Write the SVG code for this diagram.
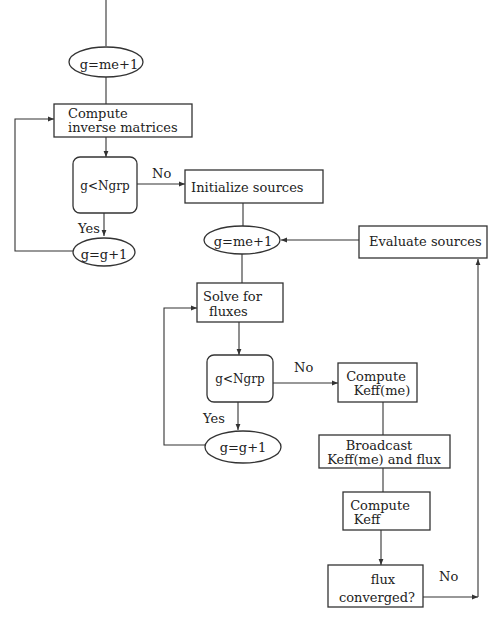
<svg xmlns="http://www.w3.org/2000/svg" width="491" height="618" viewBox="0 0 491 618">
  <style>
    .box { fill: #fff; stroke: #333; stroke-width: 1.3; }
    .ln { fill: none; stroke: #333; stroke-width: 1.1; }
    .arr { fill: none; stroke: #333; stroke-width: 1.1; marker-end: url(#ah); }
    text { font-family: "DejaVu Serif", "Liberation Serif", serif; font-size: 13px; fill: #222; }
    .c { text-anchor: middle; }
    .s { font-size: 12px; }
  </style>
  <defs>
    <marker id="ah" viewBox="0 0 10 10" refX="10" refY="5" markerWidth="6" markerHeight="6" orient="auto" markerUnits="userSpaceOnUse">
      <path d="M0,1 L10,5 L0,9 Z" fill="#333"/>
    </marker>
  </defs>
  <rect width="491" height="618" fill="#fff"/>

  <!-- connectors -->
  <g id="connectors">
    <line class="ln" x1="106" y1="0" x2="106" y2="46"/>
    <line class="ln" x1="106" y1="77" x2="106" y2="104"/>
    <line class="arr" x1="106" y1="137" x2="106" y2="157"/>
    <line class="arr" x1="137" y1="184" x2="185" y2="184"/>
    <line class="arr" x1="104" y1="213" x2="104" y2="236"/>
    <polyline class="arr" points="73,251 15,251 15,119 54,119"/>
    <line class="ln" x1="243" y1="203" x2="243" y2="226"/>
    <line class="arr" x1="359" y1="240" x2="281" y2="240"/>
    <line class="ln" x1="242" y1="254" x2="242" y2="283"/>
    <line class="arr" x1="239" y1="322" x2="239" y2="355"/>
    <polyline class="arr" points="206,445 164,445 164,308 197,308"/>
    <line class="arr" x1="238" y1="402" x2="238" y2="430"/>
    <line class="arr" x1="273" y1="383" x2="338" y2="383"/>
    <line class="ln" x1="383" y1="402" x2="383" y2="435"/>
    <line class="ln" x1="383" y1="468" x2="383" y2="492"/>
    <line class="arr" x1="381" y1="530" x2="381" y2="565"/>
    <line class="arr" x1="423" y1="597" x2="478" y2="597"/>
    <line class="arr" x1="478" y1="597" x2="478" y2="259"/>
  </g>

  <!-- nodes -->
  <g id="start">
    <ellipse class="box" cx="106" cy="62" rx="37" ry="15"/>
    <text class="c" x="109" y="69">g=me+1</text>
  </g>
  <g id="inverse">
    <rect class="box" x="54" y="104" width="138" height="33"/>
    <text x="68" y="118">Compute</text>
    <text x="68" y="132">inverse matrices</text>
  </g>
  <g id="test1">
    <rect class="box" x="73" y="157" width="64" height="56" rx="7"/>
    <text class="c s" x="105" y="190">g&lt;Ngrp</text>
  </g>
  <g id="inc1">
    <ellipse class="box" cx="104" cy="252" rx="31" ry="14"/>
    <text class="c" x="104" y="259">g=g+1</text>
  </g>
  <g id="init">
    <rect class="box" x="185" y="170" width="138" height="33"/>
    <text x="191" y="192">Initialize sources</text>
  </g>
  <g id="start2">
    <ellipse class="box" cx="242" cy="240" rx="38" ry="14"/>
    <text class="c" x="243" y="246">g=me+1</text>
  </g>
  <g id="evaluate">
    <rect class="box" x="359" y="226" width="128" height="32"/>
    <text x="369" y="246">Evaluate sources</text>
  </g>
  <g id="solve">
    <rect class="box" x="197" y="283" width="86" height="39"/>
    <text x="203" y="301">Solve for</text>
    <text x="209" y="316">fluxes</text>
  </g>
  <g id="test2">
    <rect class="box" x="207" y="355" width="66" height="47" rx="7"/>
    <text class="c s" x="240" y="383">g&lt;Ngrp</text>
  </g>
  <g id="inc2">
    <ellipse class="box" cx="243" cy="447" rx="38" ry="16"/>
    <text class="c" x="243" y="452">g=g+1</text>
  </g>
  <g id="keffme">
    <rect class="box" x="338" y="363" width="79" height="39"/>
    <text class="c" x="376" y="381">Compute</text>
    <text class="c" x="382" y="395">Keff(me)</text>
  </g>
  <g id="broadcast">
    <rect class="box" x="319" y="435" width="131" height="33"/>
    <text class="c" x="379" y="450">Broadcast</text>
    <text class="c" x="384" y="464">Keff(me) and flux</text>
  </g>
  <g id="keff">
    <rect class="box" x="343" y="492" width="87" height="38"/>
    <text class="c" x="380" y="510">Compute</text>
    <text class="c" x="367" y="524">Keff</text>
  </g>
  <g id="converged">
    <rect class="box" x="328" y="565" width="95" height="42"/>
    <text class="c" x="383" y="584">flux</text>
    <text class="c" x="377" y="602">converged?</text>
  </g>

  <!-- branch labels -->
  <g id="labels">
    <text x="152" y="178">No</text>
    <text x="78" y="233">Yes</text>
    <text x="294" y="372">No</text>
    <text x="203" y="423">Yes</text>
    <text x="439" y="581">No</text>
  </g>
</svg>
